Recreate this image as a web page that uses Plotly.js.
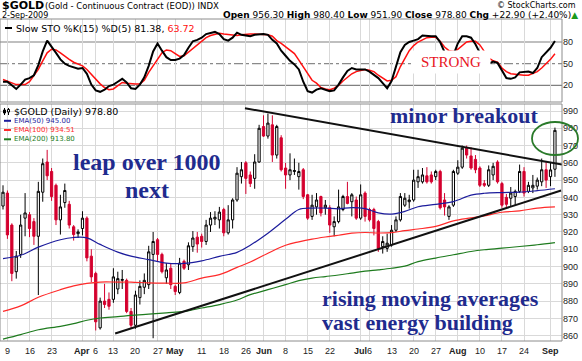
<!DOCTYPE html>
<html><head><meta charset="utf-8">
<script src="https://cdn.plot.ly/plotly-3.0.1.min.js"></script>
<style>html,body{margin:0;padding:0;background:#fff;}#chart{width:582px;height:361px;}</style>
</head><body><div id="chart"></div>
<script>
// ---------- DATA ----------
const dates = [
"2009-03-06","2009-03-09","2009-03-10","2009-03-11","2009-03-12","2009-03-13","2009-03-16","2009-03-17","2009-03-18","2009-03-19","2009-03-20","2009-03-23","2009-03-24","2009-03-25","2009-03-26","2009-03-27","2009-03-30","2009-03-31",
"2009-04-01","2009-04-02","2009-04-03","2009-04-06","2009-04-07","2009-04-08","2009-04-09","2009-04-13","2009-04-14","2009-04-15","2009-04-16","2009-04-17","2009-04-20","2009-04-21","2009-04-22","2009-04-23","2009-04-24","2009-04-27","2009-04-28","2009-04-29","2009-04-30",
"2009-05-01","2009-05-04","2009-05-05","2009-05-06","2009-05-07","2009-05-08","2009-05-11","2009-05-12","2009-05-13","2009-05-14","2009-05-15","2009-05-18","2009-05-19","2009-05-20","2009-05-21","2009-05-22","2009-05-26","2009-05-27","2009-05-28","2009-05-29",
"2009-06-01","2009-06-02","2009-06-03","2009-06-04","2009-06-05","2009-06-08","2009-06-09","2009-06-10","2009-06-11","2009-06-12","2009-06-15","2009-06-16","2009-06-17","2009-06-18","2009-06-19","2009-06-22","2009-06-23","2009-06-24","2009-06-25","2009-06-26","2009-06-29","2009-06-30",
"2009-07-01","2009-07-02","2009-07-06","2009-07-07","2009-07-08","2009-07-09","2009-07-10","2009-07-13","2009-07-14","2009-07-15","2009-07-16","2009-07-17","2009-07-20","2009-07-21","2009-07-22","2009-07-23","2009-07-24","2009-07-27","2009-07-28","2009-07-29","2009-07-30","2009-07-31",
"2009-08-03","2009-08-04","2009-08-05","2009-08-06","2009-08-07","2009-08-10","2009-08-11","2009-08-12","2009-08-13","2009-08-14","2009-08-17","2009-08-18","2009-08-19","2009-08-20","2009-08-21","2009-08-24","2009-08-25","2009-08-26","2009-08-27","2009-08-28","2009-08-31",
"2009-09-01","2009-09-02"];

const openP = [935,942.5,924,897,907,928,930,926,917.5,943,960.5,955,947,927,937,936,923,919,
922,928,906,896,864.5,880,881,881,887,892,892,874,866,882,888,889.5,907,915.5,907,893.5,899,
888.5,885,903,901,911.5,917,917.5,914.5,924,927.5,927,933,919.5,927,938.5,952,960,953,951,960.5,
981,975.5,982,964.5,974.5,957,953,955,952,956,941.5,929,934.5,940.5,934,934,923,926,933,940.5,937.5,938.5,
928,942.5,933,933,926,911.5,910.5,912.5,921,927,935.5,937.5,938.5,949,949,952.5,953,952,955,938.5,929,935.5,
954,957.5,968.5,964,962,957,948,947,953,960.5,948,940,939.5,940.5,943.5,955,943.5,945.5,946.5,949,956,
952,956.3];
const highP = [947,944,925,909,930,942.5,931.5,928,949,962.5,967.5,957,948,941.5,948,938,924,921.5,
932,929,910,897,882,890,885,899,897,898,893,876,886,892,896,912,920,916.5,908,902,902,
889.5,905,904,914,920.5,920,919,927,931.5,932,934.5,934,935.5,939.5,957.5,960.5,961,955,965,982,
987.5,988.5,987.5,982,976,960,965.5,962.5,960,957,942,941.5,942.5,941,938.5,935.5,929,944.5,941.5,949,942.5,940.5,
947.5,943.5,934,934,927,917.5,919,924,929,942.5,942.5,941.5,956,956,957,957.5,955,956,956,942.5,935.5,956,
961.5,970,970,969,964.5,958,950,958.5,960,961.5,949,942,946,944.5,959,957.5,949,953,951.5,962.5,960.5,
960.5,980.4];
const lowP = [933,916,891.5,893,905,917.5,917,912.5,883.5,937.5,950,938,924,918.5,934,922,915,916.5,
918,903,891,863,863.5,876,875,879,884,887,873,864,864,878,884,887,858.5,903,896,890,887,
883.5,884,898,898,908.5,908,911,912.5,920,924,922,917.5,918.5,922,937.5,948,942,946,945,960,
975,974,960.5,962.5,955,945,950,953,944.5,939,927,927,930,929,930,919.5,917.5,925,932,936,929,927,
927,926,926,918,908.5,907.5,908.5,911.5,920,926,934.5,933.5,937.5,945.5,948,948,948,950,933,929.5,927,934.5,
953,956.5,962.5,956,954,946,946,946,950,948,934,934.5,934.5,935.5,942.5,940.5,942.5,942.5,944.5,946.5,945.5,
946.5,951.9];
const closeP = [943,918.3,896,906,924,931,922,917.5,943.5,959.5,952.5,940.5,927,934.5,944,924,918.5,920,
928,905,894,868,880,878,877,894,893,892.5,874,866,883.5,888.5,892,908.5,914.5,907,897,898,889.5,
885.5,902,899,912,916.5,913,914.5,924,928,928.5,931.5,919.5,927,938.5,954,956,951,948,960.5,980,
975.5,983,964.5,981,956,953,956,955.5,955,940.5,928,935.5,938.5,931,935.5,924,926,934.5,940.5,936.5,941.5,928,
941.5,929,927,922,910.5,914.5,913.5,921,927,940.5,939.5,938.5,950,952,953,949,949,955,934,934.5,934.5,955,
957.5,968.5,964.5,957,956,947,947,956,958,949,935.5,936,942.5,943.5,955,942.5,947,947,950,956,950,
955.9,978.8];

// Moving averages, read at sample dates
const emaDates = ["2009-03-06","2009-03-12","2009-03-18","2009-03-25","2009-03-30","2009-04-02","2009-04-07","2009-04-14","2009-04-17","2009-04-23","2009-04-29","2009-05-05","2009-05-11","2009-05-15","2009-05-21","2009-05-27","2009-06-02","2009-06-08","2009-06-11","2009-06-16","2009-06-19","2009-06-24","2009-06-29","2009-07-02","2009-07-08","2009-07-13","2009-07-16","2009-07-21","2009-07-27","2009-07-31","2009-08-06","2009-08-11","2009-08-17","2009-08-21","2009-08-27","2009-09-02"];
const ema50  = [904.6,906.5,911.2,915.5,916.8,916.6,912.8,908.3,906,904,902,901.8,903.3,905.9,908.2,912.3,919.3,927.3,933,933.8,933.8,933.4,934.1,933.5,931,930.3,931.9,934.6,936,937.6,941.3,942.4,942.8,943,943.9,945.0];
const ema100 = [874,877.2,882.2,886.6,888.8,890.2,891,891,891,890.5,890.4,890.5,893.3,895.3,899.5,902.6,907.7,912.3,914.3,915.9,917.1,918.1,919.3,919.7,919.4,919.6,920.8,921.7,923.2,926.4,928.1,929.3,931.4,932.2,933.8,934.51];
const ema200 = [858,860.6,863.4,865.4,867,868.9,870.2,871,871.7,872.4,873.2,874,876,878,880.6,883.7,886.6,889.5,891.8,893.3,894.2,895.1,896.2,897.3,898.1,899,900.2,902.8,904.9,906.8,908.7,909.7,910.6,911.6,912.6,913.8];

// Slow stochastic, one value per trading day
const stoK = [25,25,20,15,21,28,30,34,48,67, 82,74,65,56,50,47,45,43,44,36, 21,13,11,14,19,21,25,29,24,16,
15,21,31,47,67,78,68,59,55,55, 57,62,72,81,83,86,91,93,94,91, 84,82,86,93,90,89,88,90,91,91,
90,83,78,68,61,54,49,42,25,12, 10,14,16,14,12,13,21,31,40,44, 42,42,42,39,34,30,23,16,26,45,
66,76,80,82,84,89,88,88,88,80, 66,55,62,78,88,88,86,77,65,55, 50,53,51,40,30,29,31,38,39,39, 37,44,59,66,72,81.38];
const stoD = [28,26,23,21,21,21,25,33,42,54, 65,70,69,65,60,56,52,49,47,42, 35,28,22,17,14,15,19,24,23,22,
22,22,27,38,47,57,65,69,68,64, 60,61,66,71,77,82,86,89,91,92, 91,90,89,89,90,91,91,91,91,91,
90,88,82,78,73,69,64,55,46,36, 27,23,17,15,14,16,20,26,31,36, 39,41,42,41,39,34,30,26,27,32,
46,58,68,75,80,83,86,86.5,86.5,81, 73,68,67,70,75,80,81,81,76,66, 58,54,52,44,39,36,35,34,34,34, 36,39,44,50,56,63.72];

// Trend lines drawn on the chart (trading-day position, price)
const upperTrendX = [53.8, 125.6], upperTrendY = [991.6, 959.0];
const lowerTrendX = [24.4, 125.4], lowerTrendY = [861.2, 944.0];

// X axis labels
const tickDates = ["2009-03-09","2009-03-16","2009-03-23","2009-04-01","2009-04-06","2009-04-13","2009-04-20","2009-04-27","2009-05-01","2009-05-11","2009-05-18","2009-05-26","2009-06-01","2009-06-08","2009-06-15","2009-06-22","2009-07-01","2009-07-06","2009-07-13","2009-07-20","2009-07-27","2009-08-03","2009-08-10","2009-08-17","2009-08-24","2009-09-01"];
const tickText = ["9","16","23","<b>Apr</b>","6","13","20","27","<b>May</b>","11","18","26","<b>Jun</b>","8","15","22","<b>Jul</b>","6","13","20","27","<b>Aug</b>","10","17","24","<b>Sep</b>"];
const priceTicks = [860,870,880,890,900,910,920,930,940,950,960,970,980,990];
const stoTicks = [20,50,80];

// ---------- CHART ----------
const X0 = -1;
const xPos = dates.map((d, k) => k + X0);
const xOf = d => dates.indexOf(d) + X0;

const W = 582, H = 361, ML = 0, MR = 20, MT = 19, MB = 20;
const PW = W - ML - MR, PH = H - MT - MB;
const px = x => (x - ML) / PW;
const py = y => (H - MB - y) / PH;

const SANS = 'DejaVu Sans', SERIF = 'Liberation Serif';
const NAVY = '#1f2b8e', RED = '#d4002e';

const traces = [
  {type:'scatter', mode:'lines', x: emaDates.map(xOf), y: ema200, line:{color:'#1e7b1e', width:1.2, shape:'spline'}, xaxis:'x', yaxis:'y', hoverinfo:'skip'},
  {type:'scatter', mode:'lines', x: emaDates.map(xOf), y: ema100, line:{color:'#ff2a2a', width:1.2, shape:'spline'}, xaxis:'x', yaxis:'y', hoverinfo:'skip'},
  {type:'scatter', mode:'lines', x: emaDates.map(xOf), y: ema50, line:{color:'#1c1c9c', width:1.2, shape:'spline'}, xaxis:'x', yaxis:'y', hoverinfo:'skip'},
  {type:'scatter', mode:'lines', x: upperTrendX, y: upperTrendY, line:{color:'#111', width:2}, xaxis:'x', yaxis:'y', hoverinfo:'skip'},
  {type:'scatter', mode:'lines', x: lowerTrendX, y: lowerTrendY, line:{color:'#111', width:2}, xaxis:'x', yaxis:'y', hoverinfo:'skip'},
  {type:'candlestick', x: xPos, open: openP, high: highP, low: lowP, close: closeP, xaxis:'x', yaxis:'y',
   whiskerwidth:0,
   increasing:{line:{color:'#000', width:1}, fillcolor:'#ffffff'},
   decreasing:{line:{color:RED, width:1}, fillcolor:RED}, hoverinfo:'skip'},
  {type:'scatter', mode:'lines', x: xPos, y: stoD, line:{color:'#ff1010', width:1.5}, xaxis:'x', yaxis:'y2', hoverinfo:'skip'},
  {type:'scatter', mode:'lines', x: xPos, y: stoK, line:{color:'#000', width:2}, xaxis:'x', yaxis:'y2', hoverinfo:'skip'}
];

function txt(text, x, y, size, color, opts) {
  opts = opts || {};
  return Object.assign({text, x: px(x), y: py(y), xref:'paper', yref:'paper', showarrow:false,
    xanchor: opts.xa || 'left', yanchor:'middle',
    font:{family: opts.family || SANS, size, color}}, opts.extra || {});
}

const axisFont = {family:'Liberation Sans', size:9, color:'#222'};

const annotations = [
  txt('<b>$GOLD</b>', 0, 6, 11, '#000'),
  txt('(Gold - Continuous Contract (EOD)) INDX', 43, 6.5, 8.5, '#000'),
  txt('© StockCharts.com', 578, 5.5, 8, '#000', {xa:'right'}),
  txt('2-Sep-2009', 0, 15.5, 8, '#000'),
  txt('<b>Open</b> 956.30 <b>High</b> 980.40 <b>Low</b> 951.90 <b>Close</b> 978.80 <b>Chg</b> +22.90 (+2.40%)<span style="color:#1a9a1a">▲</span>', 580, 15.5, 9, '#000', {xa:'right'}),
  txt('Slow STO %K(15) %D(5) 81.38, <span style="color:#ff1010">63.72</span>', 14, 28, 9.5, '#000'),
  txt('$GOLD (Daily) 978.80', 12, 111.7, 9.5, '#000'),
  txt('EMA(50) 945.00', 12, 120.8, 7, '#1c1c9c'),
  txt('EMA(100) 934.51', 12, 130, 7, '#ff2a2a'),
  txt('EMA(200) 913.80', 12, 139.3, 7, '#1e7b1e'),
  txt('<b>leap over 1000</b>', 147, 161.5, 24, NAVY, {xa:'center', family:SERIF}),
  txt('<b>next</b>', 146.5, 189.5, 24, NAVY, {xa:'center', family:SERIF}),
  txt('<b>minor breakout</b>', 464, 116, 22, NAVY, {xa:'center', family:SERIF}),
  txt('<b>rising moving averages</b>', 320, 298, 22, NAVY, {family:SERIF}),
  txt('<b>vast energy building</b>', 320, 322, 22, NAVY, {family:SERIF}),
  txt('STRONG', 451, 62.5, 15, '#e8141e', {xa:'center', family:SERIF, extra:{bgcolor:'#ffffff', width:76, height:20}})
];
// x-axis labels drawn as annotations so that close labels (Apr 6, Jul 6) both show
tickDates.forEach((d, k) => {
  annotations.push({text: tickText[k], x: xOf(d), xref:'x', y: py(351), yref:'paper',
    showarrow:false, xanchor:'center', yanchor:'middle', font: axisFont});
});

const shapes = [
  {type:'rect', xref:'paper', yref:'paper', x0:0, x1:1, y0:py(102), y1:1, line:{color:'#8c8c8c', width:1}},
  {type:'rect', xref:'paper', yref:'paper', x0:0, x1:1, y0:0, y1:py(104), line:{color:'#8c8c8c', width:1}},
  {type:'line', xref:'paper', yref:'y2', x0:0, x1:1, y0:80, y1:80, line:{color:'#808080', width:1.2}, layer:'below'},
  {type:'line', xref:'paper', yref:'y2', x0:0, x1:1, y0:20, y1:20, line:{color:'#808080', width:1.2}, layer:'below'},
  {type:'line', xref:'paper', yref:'y2', x0:0, x1:1, y0:50, y1:50, line:{color:'#8a8a8a', width:1.2, dash:'dashdot'}, layer:'below'},
  {type:'line', xref:'paper', yref:'paper', x0:px(5), x1:px(12), y0:py(28), y1:py(28), line:{color:'#000', width:2}},
  {type:'line', xref:'paper', yref:'paper', x0:px(4), x1:px(11), y0:py(120.8), y1:py(120.8), line:{color:'#1c1c9c', width:2}},
  {type:'line', xref:'paper', yref:'paper', x0:px(4), x1:px(11), y0:py(130), y1:py(130), line:{color:'#ff2a2a', width:2}},
  {type:'line', xref:'paper', yref:'paper', x0:px(4), x1:px(11), y0:py(139.3), y1:py(139.3), line:{color:'#1e7b1e', width:2}},
  {type:'line', xref:'paper', yref:'paper', x0:px(4.5), x1:px(4.5), y0:py(108), y1:py(115), line:{color:'#000', width:1}},
  {type:'rect', xref:'paper', yref:'paper', x0:px(3.5), x1:px(5.5), y0:py(113), y1:py(110), line:{color:'#000', width:1}, fillcolor:'#000'},
  {type:'line', xref:'paper', yref:'paper', x0:px(8.5), x1:px(8.5), y0:py(108), y1:py(115), line:{color:'#000', width:1}},
  {type:'rect', xref:'paper', yref:'paper', x0:px(7.5), x1:px(9.5), y0:py(112), y1:py(109.5), line:{color:'#000', width:1}, fillcolor:'#fff'},
  {type:'circle', xref:'paper', yref:'paper', x0:px(532), x1:px(578), y0:py(155), y1:py(122), line:{color:'#2a7a2a', width:1.8}}
];

const layout = {
  width: W, height: H,
  margin:{l:ML, r:MR, t:MT, b:MB, pad:0},
  paper_bgcolor:'#fff', plot_bgcolor:'#fff',
  showlegend:false,
  boxgap:0.28,
  xaxis:{anchor:'y', range:[-1.68, 125.6], tickvals: tickDates.map(xOf), showticklabels:false,
    showgrid:true, gridcolor:'#d9d9d9', gridwidth:1, zeroline:false, showline:false,
    ticks:'', rangeslider:{visible:false}, fixedrange:true},
  yaxis:{domain:[0, py(104)], range:[856.9, 994.05], side:'right', anchor:'x',
    tickvals: priceTicks, showgrid:true, gridcolor:'#d9d9d9', zeroline:false, showline:false,
    ticks:'', tickfont:axisFont, fixedrange:true},
  yaxis2:{domain:[py(102), 1], range:[-3.1, 111.9], side:'right', anchor:'x',
    tickvals: stoTicks, showgrid:false, zeroline:false, showline:false,
    ticks:'', tickfont:axisFont, fixedrange:true},
  annotations, shapes
};

Plotly.newPlot('chart', traces, layout, {displayModeBar:false, staticPlot:true});
</script>
</body></html>
